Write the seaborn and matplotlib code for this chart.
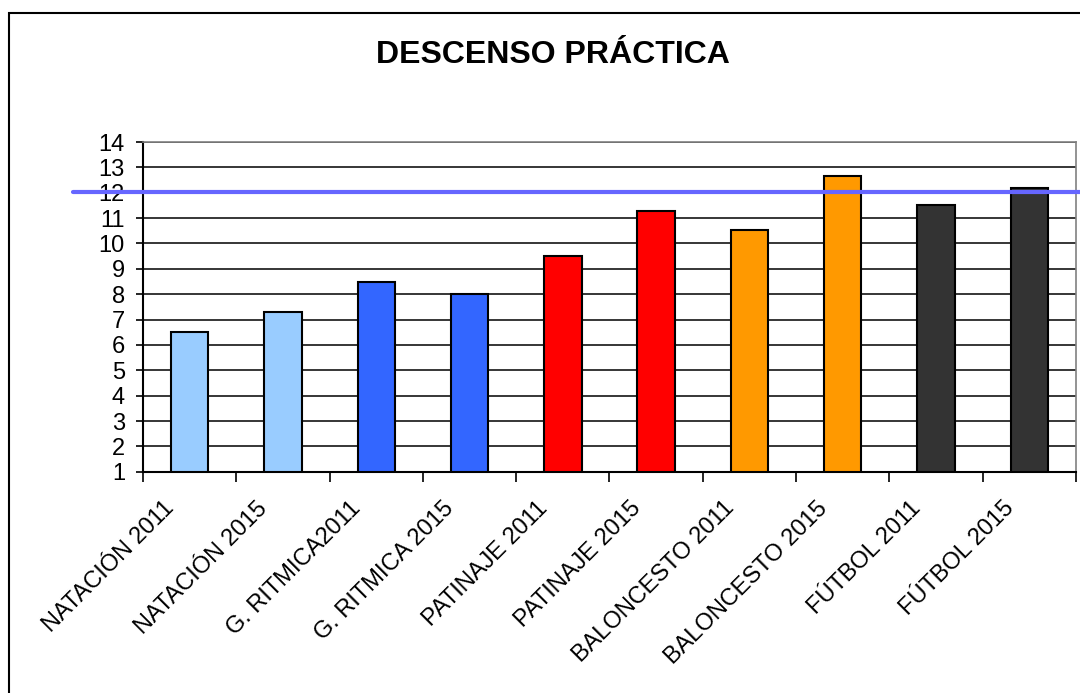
import matplotlib
matplotlib.use('Agg')
import matplotlib.pyplot as plt
import matplotlib.transforms as mtransforms
from matplotlib.patches import Rectangle
import pandas as pd
import seaborn as sns

# Chart data
categories = ["NATACIÓN 2011", "NATACIÓN 2015", "G. RITMICA2011", "G. RITMICA 2015",
              "PATINAJE 2011", "PATINAJE 2015", "BALONCESTO 2011", "BALONCESTO 2015",
              "FÚTBOL 2011", "FÚTBOL 2015"]
values = [6.52, 7.3, 8.5, 8.0, 9.5, 11.3, 10.55, 12.65, 11.5, 12.2]
bar_colors = ["#99CCFF", "#99CCFF", "#3366FF", "#3366FF", "#FF0000",
              "#FF0000", "#FF9900", "#FF9900", "#333333", "#333333"]
threshold = 12.05
y_ticks = list(range(1, 15))

df = pd.DataFrame({"categoria": categories, "valor": values})

sns.set_style("white")
plt.rcParams['font.family'] = ['Liberation Sans', 'DejaVu Sans']
plt.rcParams['text.color'] = 'black'
plt.rcParams['xtick.labelcolor'] = 'black'
plt.rcParams['ytick.labelcolor'] = 'black'

fig = plt.figure(figsize=(10.8, 6.93), dpi=100)
ax = fig.add_axes([0.1324, 0.3193, 0.8639, 0.4757])

sns.barplot(data=df, x="categoria", y="valor", hue="categoria",
            palette=dict(zip(categories, bar_colors)), legend=False,
            width=0.4, edgecolor="black", linewidth=1.5, saturation=1, ax=ax)

ax.set_ylim(y_ticks[0], y_ticks[-1])
ax.set_yticks(y_ticks)
ax.set_xlim(-0.5, len(categories) - 0.5)
ax.yaxis.grid(True, color="black", linewidth=1.1)
ax.set_axisbelow(True)

# ticks
ax.tick_params(axis="y", which="major", direction="out", length=5, width=1.2,
               color="black", labelsize=17, pad=8, left=True)
ax.set_xticks(range(len(categories)))
ax.set_xticks([i - 0.5 for i in range(len(categories) + 1)], minor=True)
ax.tick_params(axis="x", which="minor", direction="out", length=7, width=1.2,
               color="black", bottom=True)
ax.tick_params(axis="x", which="major", length=0, pad=24, labelsize=17)
offset = mtransforms.ScaledTranslation(-0.19, 0, fig.dpi_scale_trans)
for lbl in ax.get_xticklabels():
    lbl.set_rotation(45)
    lbl.set_ha("right")
    lbl.set_va("center")
    lbl.set_rotation_mode("anchor")
    lbl.set_transform(lbl.get_transform() + offset)

ax.set_xlabel("")
ax.set_ylabel("")

for side in ["left", "bottom"]:
    ax.spines[side].set_color("black")
    ax.spines[side].set_linewidth(1.5)
for side in ["top", "right"]:
    ax.spines[side].set_color("#808080")
    ax.spines[side].set_linewidth(1.2)

# reference line, runs past the plot area like in the original
ax.axhline(threshold, xmin=-0.075, xmax=1.01, color="#6666FF", linewidth=3,
           clip_on=False, zorder=5)

fig.text(0.512, 0.921, "DESCENSO PRÁCTICA", ha="center", va="center",
         fontsize=23, fontweight="bold", color="black")

# outer chart border
fig.patches.append(Rectangle((9 / 1080, -0.1), 1.2, 1.1 - 13 / 693,
                             transform=fig.transFigure, fill=False,
                             edgecolor="black", linewidth=1.5))

fig.savefig("out.png", dpi=100)
plt.close(fig)
